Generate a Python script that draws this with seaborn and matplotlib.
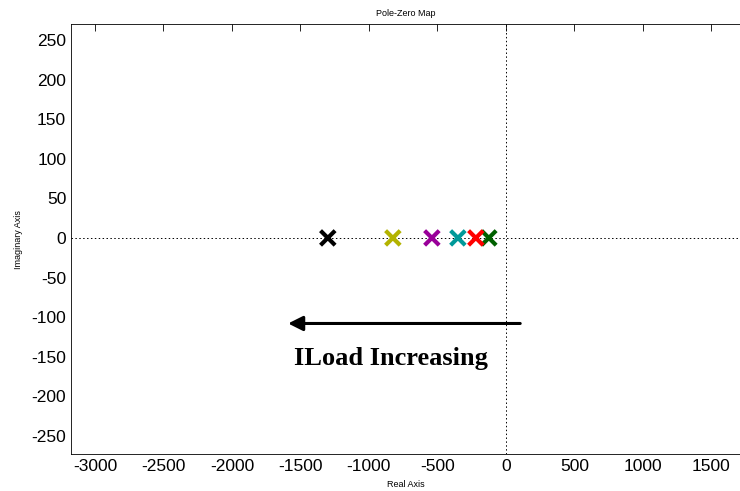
import matplotlib
matplotlib.use("Agg")
import matplotlib.pyplot as plt
import seaborn as sns
import pandas as pd

# pole locations (real, imag) as ILoad increases
pole_re = [-124, -219, -350, -540, -825, -1300]
pole_im = [0, 0, 0, 0, 0, 0]
pole_id = ["p1", "p2", "p3", "p4", "p5", "p6"]
pole_colors = ["#006000", "#ff0000", "#009999", "#990099", "#b3b300", "#000000"]

xticks = [-3000, -2500, -2000, -1500, -1000, -500, 0, 500, 1000, 1500]
yticks = [-250, -200, -150, -100, -50, 0, 50, 100, 150, 200, 250]

df = pd.DataFrame({"re": pole_re, "im": pole_im, "pole": pole_id})

sns.set_style("white")
plt.rcParams["font.family"] = ["Liberation Sans", "DejaVu Sans"]
plt.rcParams["axes.unicode_minus"] = False
plt.rcParams["text.color"] = "black"
plt.rcParams["axes.labelcolor"] = "black"

fig = plt.figure(figsize=(7.4, 4.91), dpi=100)
ax = fig.add_axes([0.096, 0.075, 0.904, 0.876])

ax.axhline(0, color="black", ls=(0, (1.5, 2.5)), lw=0.7, zorder=1)
ax.axvline(0, color="black", ls=(0, (1.5, 2.5)), lw=0.7, zorder=1)

sns.scatterplot(data=df, x="re", y="im", hue="pole", palette=pole_colors,
                marker="x", s=110, linewidth=3, legend=False, ax=ax, zorder=3)

# arrow + label
ax.annotate("", xy=(-1590, -108), xytext=(105, -108),
            arrowprops=dict(arrowstyle="-|>", color="black", lw=2.2,
                            mutation_scale=22, shrinkA=0, shrinkB=0))
ax.text(-840, -152, "ILoad Increasing", family=["Liberation Serif", "DejaVu Serif"],
        fontweight="bold", fontsize=19, ha="center", va="center", color="black",
        bbox=dict(facecolor="white", edgecolor="none", pad=3), zorder=2)

ax.set_xlim(-3175, 1710)
ax.set_ylim(-273, 270)
ax.set_xticks(xticks)
ax.set_yticks(yticks)
ax.tick_params(direction="in", length=5, top=True, right=False, labelsize=12.5,
               width=0.6, colors="black")
for sp in ax.spines.values():
    sp.set_linewidth(0.6)
    sp.set_color("black")
ax.spines["right"].set_visible(False)

ax.set_xlabel("Real Axis", fontsize=6.5, labelpad=4)
ax.set_ylabel("Imaginary Axis", fontsize=6.5, labelpad=6)
ax.set_title("Pole-Zero Map", fontsize=6.5, pad=6)

fig.savefig("out.png", dpi=100)
